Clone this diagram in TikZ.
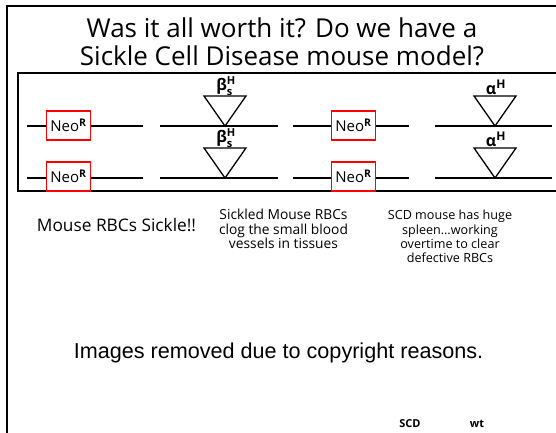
\documentclass[tikz,border=0pt]{standalone}
\usepackage{fontspec}
\setmainfont{Open Sans}
\newfontfamily\arialfont{Liberation Sans}
\begin{document}
\begin{tikzpicture}[x=1pt,y=-1pt,
  frame/.style={line width=2pt,black},
  inner/.style={line width=1.3pt,black},
  dna/.style={line width=2.8pt,black},
  neobox/.style={draw=red,line width=1.4pt,fill=white,minimum width=44pt,minimum height=29pt,inner sep=0pt,font=\fontsize{15}{16}\selectfont},
  tri/.style={line width=1.3pt,black},
  lab/.style={font=\fontsize{16}{16}\selectfont\bfseries,inner sep=0pt},
  captext/.style={align=center,inner sep=0pt},
]
\useasboundingbox (0,0) rectangle (556,433);
\fill[white] (0,0) rectangle (556,433);
% outer frame
\coordinate (ftr) at (556,6);
\coordinate (ftl) at (7,6);
\coordinate (fbl) at (7,433);
\draw[frame] (ftr) -- (ftl) -- (fbl);
% inner box
\coordinate (itr) at (556,73);
\coordinate (itl) at (18,73);
\coordinate (ibl) at (18,191);
\coordinate (ibr) at (556,191);
\draw[inner] (itr) -- (itl) -- (ibl) -- (ibr);
% title
\node[align=center,inner sep=0pt,font=\fontsize{26}{28}\selectfont] (title) at (282,42) {Was it all worth it? Do we have a\\Sickle Cell Disease mouse model?};
% DNA lines
\foreach \row/\y in {a/126,b/178}{
  \coordinate (s1\row) at (27,\y);  \coordinate (e1\row) at (143,\y);
  \coordinate (s2\row) at (160,\y); \coordinate (e2\row) at (278,\y);
  \coordinate (s3\row) at (293,\y); \coordinate (e3\row) at (409,\y);
  \coordinate (s4\row) at (435,\y); \coordinate (e4\row) at (552,\y);
  \draw[dna] (s1\row) -- (e1\row);
  \draw[dna] (s2\row) -- (e2\row);
  \draw[dna] (s3\row) -- (e3\row);
  \draw[dna] (s4\row) -- (e4\row);
}
% Neo boxes
\node[neobox] (neo1a) at (68.5,125.5) {Neo\textsuperscript{\bfseries R}};
\node[neobox] (neo1b) at (68.5,176.5) {Neo\textsuperscript{\bfseries R}};
\node[neobox] (neo3a) at (353.5,125.5) {Neo\textsuperscript{\bfseries R}};
\node[neobox] (neo3b) at (353.5,176.5) {Neo\textsuperscript{\bfseries R}};
% triangles (beta)
\coordinate (tb1l) at (204,96); \coordinate (tb1r) at (246,96); \coordinate (tb1a) at (225,126);
\coordinate (tb2l) at (204,148); \coordinate (tb2r) at (246,148); \coordinate (tb2a) at (225,178);
\draw[tri] (tb1l) -- (tb1r) -- (tb1a) -- cycle;
\draw[tri] (tb2l) -- (tb2r) -- (tb2a) -- cycle;
\node[lab] (bl1) at (226,86) {β$^{\mbox{\fontsize{11}{11}\selectfont\bfseries H}}_{\mbox{\fontsize{11}{11}\selectfont\bfseries s}}$};
\node[lab] (bl2) at (226,138) {β$^{\mbox{\fontsize{11}{11}\selectfont\bfseries H}}_{\mbox{\fontsize{11}{11}\selectfont\bfseries s}}$};
% triangles (alpha)
\coordinate (ta1l) at (474,96); \coordinate (ta1r) at (516,96); \coordinate (ta1a) at (495,126);
\coordinate (ta2l) at (474,148); \coordinate (ta2r) at (516,148); \coordinate (ta2a) at (495,178);
\draw[tri] (ta1l) -- (ta1r) -- (ta1a) -- cycle;
\draw[tri] (ta2l) -- (ta2r) -- (ta2a) -- cycle;
\node[lab] (al1) at (496,87) {α$^{\mbox{\fontsize{12}{12}\selectfont\bfseries H}}$};
\node[lab] (al2) at (496,139) {α$^{\mbox{\fontsize{12}{12}\selectfont\bfseries H}}$};
% captions
\node[captext,font=\fontsize{17.3}{18}\selectfont] (c1) at (116.5,225) {Mouse RBCs Sickle!!};
\node[captext,font=\fontsize{13.8}{14.2}\selectfont] (c2) at (283.5,229) {Sickled Mouse RBCs\\clog the small blood\\vessels in tissues};
\node[captext,font=\fontsize{12.6}{14.3}\selectfont] (c3) at (450,236.5) {SCD mouse has huge\\spleen\dots working\\overtime to clear\\defective RBCs};
\node[inner sep=0pt,font=\arialfont\fontsize{21.6}{22}\selectfont] (img) at (278.5,353) {Images removed due to copyright reasons.};
\node[inner sep=0pt,font=\fontsize{11}{12}\selectfont\bfseries] (scd) at (410,424) {SCD};
\node[inner sep=0pt,font=\fontsize{11}{12}\selectfont\bfseries] (wt) at (477,424) {wt};
\end{tikzpicture}
\end{document}
